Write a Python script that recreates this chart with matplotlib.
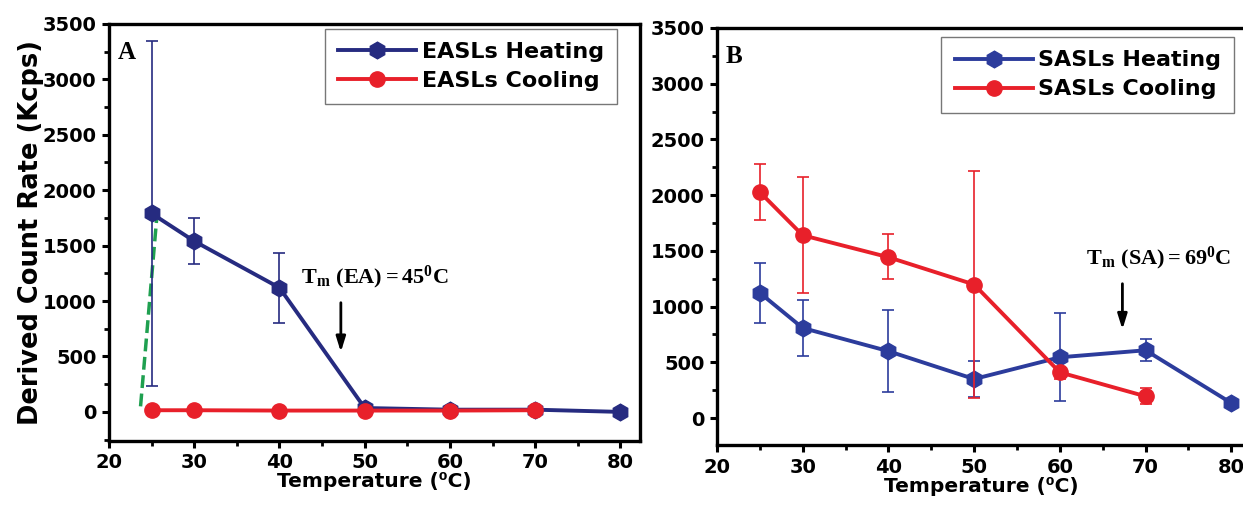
import numpy as np
import matplotlib
matplotlib.use('Agg')
import matplotlib.pyplot as plt
from matplotlib.ticker import MultipleLocator

# ---- data ----
temps_heat = [25, 30, 40, 50, 60, 70, 80]
temps_cool = [25, 30, 40, 50, 60, 70]

# panel A (EASLs)
ea_heat = [1790, 1540, 1120, 35, 20, 20, 0]
ea_heat_err = [1555, 205, 315, 0, 0, 0, 0]
ea_cool = [15, 15, 12, 12, 12, 15]
ea_fit_x = [23.7, 25.6]
ea_fit_y = [50, 1750]

# panel B (SASLs)
sa_heat = [1123, 808, 600, 350, 545, 608, 135]
sa_heat_err = [272, 247, 365, 165, 395, 100, 0]
sa_cool = [2027, 1640, 1443, 1198, 410, 195]
sa_cool_lo = [252, 522, 194, 1018, 60, 70]
sa_cool_hi = [248, 525, 204, 1018, 40, 75]

NAVY = '#262B80'
BLUE = '#2C3C9C'
RED = '#E8202A'

plt.rcParams['font.family'] = ['DejaVu Sans']
plt.rcParams['font.weight'] = 'bold'
plt.rcParams['mathtext.fontset'] = 'custom'
plt.rcParams['mathtext.rm'] = 'Liberation Serif:bold'
plt.rcParams['mathtext.it'] = 'Liberation Serif:bold'
plt.rcParams['mathtext.bf'] = 'Liberation Serif:bold'

fig = plt.figure(figsize=(12.43, 5.08), dpi=100)
axA = fig.add_axes([0.0877, 0.132, 0.4272, 0.821])
axB = fig.add_axes([0.5768, 0.124, 0.4248, 0.821])


def style_axes(ax, xmax, ymin):
    ax.set_xlim(20, xmax)
    ax.set_ylim(ymin, 3500)
    ax.xaxis.set_major_locator(MultipleLocator(10))
    ax.xaxis.set_minor_locator(MultipleLocator(5))
    ax.yaxis.set_major_locator(MultipleLocator(500))
    ax.yaxis.set_minor_locator(MultipleLocator(250))
    ax.set_yticks(np.arange(0, 3501, 500))
    for s in ax.spines.values():
        s.set_linewidth(2.4)
    ax.tick_params(which='major', direction='out', length=5, width=2.2,
                   labelsize=14, top=False, right=False, pad=4)
    ax.tick_params(which='minor', direction='out', length=3.5, width=2.0,
                   top=False, right=False)
    for lab in ax.get_xticklabels() + ax.get_yticklabels():
        lab.set_fontweight('bold')
    ax.set_xlabel('Temperature (\u2070C)', fontsize=14.5, fontweight='bold', labelpad=0)


def series(ax, x, y, err, color, marker, ms, label, z):
    ax.errorbar(x, y, yerr=err, fmt='none', ecolor=color, elinewidth=1.2,
                capsize=4.5, capthick=1.2, zorder=z)
    ax.plot(x, y, color=color, lw=2.8, marker=marker, ms=ms, mec=color,
            mfc=color, label=label, zorder=z + 0.5)


def legend(ax, anchor):
    leg = ax.legend(loc='upper right', bbox_to_anchor=anchor, fontsize=16,
                    handlelength=3.5, frameon=True, fancybox=False,
                    borderpad=0.6, labelspacing=0.4, handletextpad=0.25,
                    borderaxespad=0)
    leg.get_frame().set_edgecolor('#555555')
    leg.get_frame().set_linewidth(1.0)


ARROW = dict(arrowstyle='-|>,head_length=0.9,head_width=0.28', color='black', lw=2.0)

# ---------- panel A ----------
axA.plot(ea_fit_x, ea_fit_y, ls='--', color='#1FA050', lw=2.5, zorder=2)
series(axA, temps_heat, ea_heat, ea_heat_err, NAVY, 'h', 12, 'EASLs Heating', 3)
series(axA, temps_cool, ea_cool, None, RED, 'o', 11, 'EASLs Cooling', 4)
style_axes(axA, 82.3, -262)
axA.set_ylabel('Derived Count Rate (Kcps)', fontsize=18.5, fontweight='bold', labelpad=-1)
axA.text(0.016, 0.958, 'A', transform=axA.transAxes, fontsize=18,
         family='Liberation Serif', fontweight='bold', va='top', ha='left')
axA.annotate('', xy=(47.2, 515), xytext=(47.2, 1010), arrowprops=ARROW)
axA.text(42.5, 1210, r'$\mathbf{T_m\ (EA) = 45^0C}$', fontsize=16,
         ha='left', va='center')
legend(axA, (0.957, 0.988))

# ---------- panel B ----------
series(axB, temps_heat, sa_heat, sa_heat_err, BLUE, 'h', 12, 'SASLs Heating', 3)
series(axB, temps_cool, sa_cool, [sa_cool_lo, sa_cool_hi], RED, 'o', 11, 'SASLs Cooling', 4)
style_axes(axB, 81.6, -242)
axB.text(0.016, 0.958, 'B', transform=axB.transAxes, fontsize=18,
         family='Liberation Serif', fontweight='bold', va='top', ha='left')
axB.annotate('', xy=(67.3, 770), xytext=(67.3, 1230), arrowprops=ARROW)
axB.text(63.0, 1436, r'$\mathbf{T_m\ (SA) = 69^0C}$', fontsize=16,
         ha='left', va='center')
legend(axB, (0.98, 0.978))

fig.savefig('out.png', dpi=100)
